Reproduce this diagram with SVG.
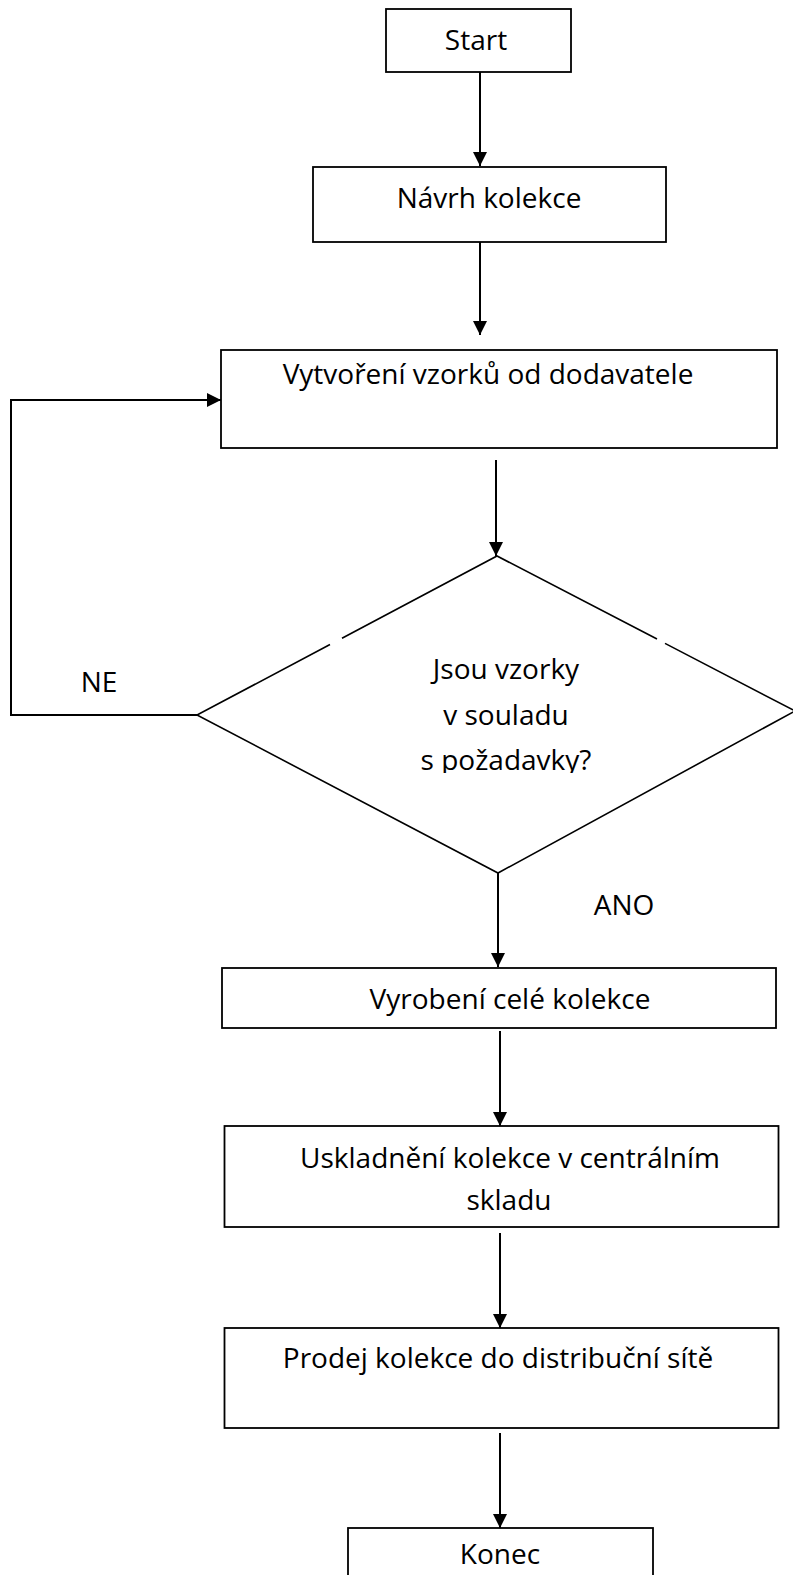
<svg xmlns="http://www.w3.org/2000/svg" width="793" height="1575" viewBox="0 0 793 1575">
<style>
.box{fill:#fff;stroke:#000;stroke-width:1.8}
.dia{fill:none;stroke:#000;stroke-width:1.6}
.con{fill:none;stroke:#000;stroke-width:2}
text{font-family:"Open Sans","Noto Sans","Liberation Sans",sans-serif;font-size:28px;fill:#000;text-anchor:middle}
</style>
<defs>
<marker id="ah" viewBox="0 0 14 14" refX="14" refY="7" markerWidth="14" markerHeight="14" markerUnits="userSpaceOnUse" orient="auto">
<path d="M0,0 L14,7 L0,14 Z" fill="#000"/>
</marker>
<clipPath id="qclip"><rect x="380" y="640" width="260" height="133"/></clipPath>
</defs>
<rect width="793" height="1575" fill="#fff"/>
<g id="start"><rect class="box" x="386" y="9" width="185" height="63"/><text x="476" y="50">Start</text></g>
<g id="navrh"><rect class="box" x="313" y="167" width="353" height="75"/><text x="489" y="208">Návrh kolekce</text></g>
<g id="vytvoreni"><rect class="box" x="221" y="350" width="556" height="98"/><text x="488" y="384">Vytvoření vzorků od dodavatele</text></g>
<g id="decision">
<polygon points="497,556 795,711 498,873 197,715" fill="#fff" stroke="none"/>
<path class="dia" d="M330,644.5 L197,715 L498,873 L795,711 L665,643.4 M657,639 L497,556 L342,638.3"/>
<g clip-path="url(#qclip)">
<text x="506" y="679">Jsou vzorky</text>
<text x="506" y="725">v souladu</text>
<text x="506" y="770">s požadavky?</text>
</g>
</g>
<g id="vyrobeni"><rect class="box" x="222" y="968" width="554" height="60"/><text x="510" y="1009">Vyrobení celé kolekce</text></g>
<g id="uskladneni"><rect class="box" x="224.5" y="1126" width="554" height="101"/><text x="510" y="1168">Uskladnění kolekce v centrálním</text><text x="509" y="1210">skladu</text></g>
<g id="prodej"><rect class="box" x="224.5" y="1328" width="554" height="100"/><text x="498" y="1368">Prodej kolekce do distribuční sítě</text></g>
<g id="konec"><rect class="box" x="348" y="1528" width="305" height="60"/><text x="500" y="1564">Konec</text></g>
<g id="connectors">
<line class="con" x1="480" y1="72" x2="480" y2="166" marker-end="url(#ah)"/>
<line class="con" x1="480" y1="242" x2="480" y2="335" marker-end="url(#ah)"/>
<line class="con" x1="496" y1="460" x2="496" y2="556" marker-end="url(#ah)"/>
<polyline class="con" points="197,715 11,715 11,400 221,400" marker-end="url(#ah)"/>
<line class="con" x1="498" y1="873" x2="498" y2="967" marker-end="url(#ah)"/>
<line class="con" x1="500" y1="1031" x2="500" y2="1126" marker-end="url(#ah)"/>
<line class="con" x1="500" y1="1233" x2="500" y2="1328" marker-end="url(#ah)"/>
<line class="con" x1="500" y1="1433" x2="500" y2="1528" marker-end="url(#ah)"/>
<text x="99" y="692">NE</text>
<text x="624" y="915">ANO</text>
</g>
</svg>
